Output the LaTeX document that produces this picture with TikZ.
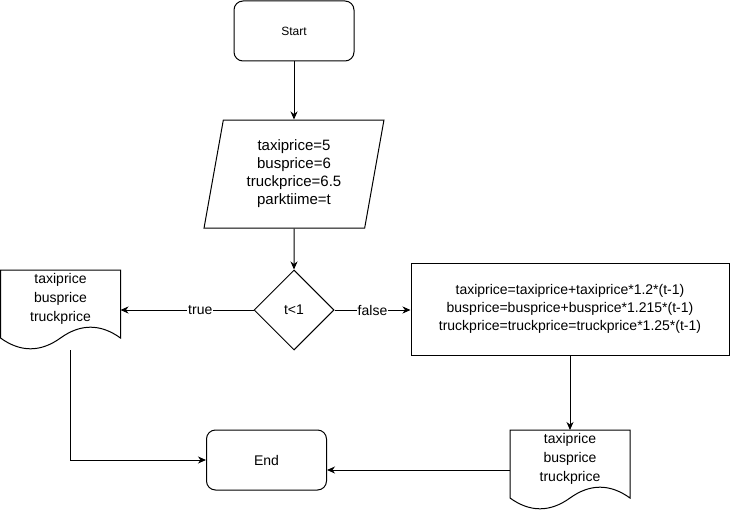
\documentclass[tikz,border=0pt]{standalone}
\usepackage{fontspec}
\setmainfont{Liberation Sans}
\usetikzlibrary{arrows.meta,shapes.geometric,calc}

\begin{document}
\begin{tikzpicture}[x=1pt, y=-1pt, line width=1pt,
  font=\fontsize{14}{17}\selectfont,
  terminal/.style={rectangle, rounded corners=9pt, draw, minimum width=120pt, minimum height=60pt},
  io/.style={trapezium, trapezium left angle=79.5, trapezium right angle=100.5, trapezium stretches=true, draw, minimum width=180pt, minimum height=108pt, align=center, font=\fontsize{15}{18}\selectfont},
  decision/.style={diamond, aspect=1, draw, minimum width=80pt, minimum height=80pt, inner sep=0pt},
  process/.style={rectangle, draw, minimum width=318pt, minimum height=92pt, align=center, font=\fontsize{14}{18}\selectfont},
  docbox/.style={rectangle, minimum width=120pt, minimum height=58pt, outer sep=0pt, anchor=north, align=center, font=\fontsize{14}{19}\selectfont},
  edgelabel/.style={fill=white, inner sep=1pt},
  arrow/.style={-{Stealth[length=8pt, width=7pt, inset=2.5pt]}}
]
\useasboundingbox (0,0) rectangle (731,511);

\node[terminal, font=\fontsize{12}{14}\selectfont] (start) at (294,31) {Start};
\node[io] (init) at (294,174) {taxiprice=5\\busprice=6\\truckprice=6.5\\parktiime=t};
\node[decision] (cond) at (294,310) {t<1};
\node[process] (update) at (570,309) {taxiprice=taxiprice+taxiprice*1.2*(t-1)\\busprice=busprice+busprice*1.215*(t-1)\\truckprice=truckprice=truckprice*1.25*(t-1)};
\node[docbox] (leftdoc) at (60.5,270) {taxiprice\\busprice\\truckprice};
\node[docbox] (rightdoc) at (570,430) {taxiprice\\busprice\\truckprice};
\node[terminal] (end) at (266.5,460) {End};

% document outlines with wavy bottom
\foreach \doc in {leftdoc,rightdoc}
  \draw ($(\doc.north west)$) -- ($(\doc.north east)$) -- ($(\doc.north west)+(120,68)$)
    .. controls ($(\doc.north west)+(100,53.6)$) and ($(\doc.north west)+(80,53.6)$) .. ($(\doc.north west)+(60,68)$)
    .. controls ($(\doc.north west)+(40,82.4)$) and ($(\doc.north west)+(20,82.4)$) .. ($(\doc.north west)+(0,68)$) -- cycle;

\coordinate (leftout) at ($(leftdoc.north west)+(70,80)$);
\coordinate (rightin) at ($(rightdoc.north west)+(0,40)$);

\draw[arrow] (start) -- (init);
\draw[arrow] (init) -- (cond);
\draw[arrow] (cond.west) -- node[edgelabel, pos=0.4] {true} (cond.west -| leftdoc.east);
\draw[arrow] (cond.east) -- node[edgelabel, pos=0.5] {false} (cond.east -| update.west);
\draw[arrow] (update) -- (rightdoc);
\draw[arrow] (rightin) -- (rightin -| end.east);
\draw[arrow] (leftout) |- (end.west);
\end{tikzpicture}
\end{document}
